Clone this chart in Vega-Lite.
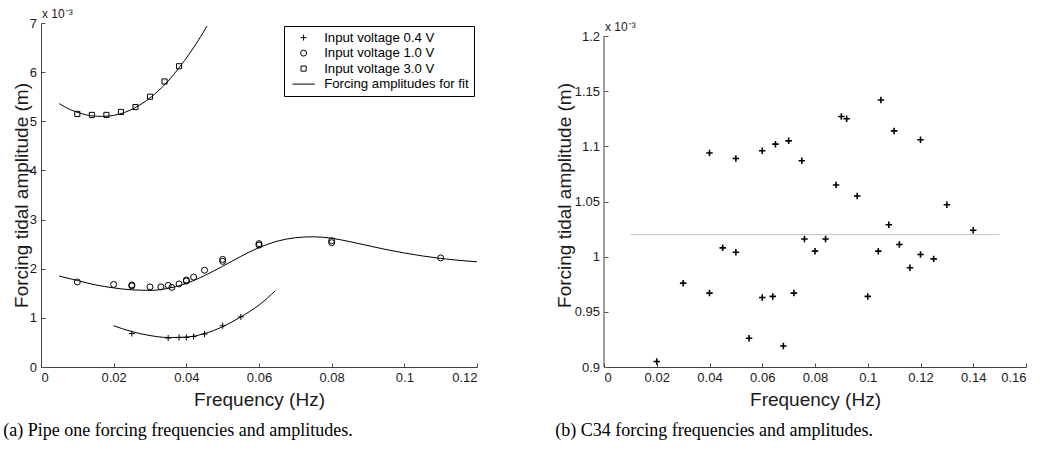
{
  "$schema": "https://vega.github.io/schema/vega-lite/v6.json",
  "padding": {"left": 3, "top": 8, "right": 4, "bottom": 4},
  "background": "white",
  "spacing": 76,
  "resolve": {"legend": {"shape": "independent"}, "scale": {"shape": "independent"}},
  "datasets": {
    "pipePoints": [
      {"series": "Input voltage 0.4 V", "f": 0.025, "a": 0.68},
      {"series": "Input voltage 0.4 V", "f": 0.035, "a": 0.59},
      {"series": "Input voltage 0.4 V", "f": 0.038, "a": 0.60},
      {"series": "Input voltage 0.4 V", "f": 0.040, "a": 0.60},
      {"series": "Input voltage 0.4 V", "f": 0.042, "a": 0.62},
      {"series": "Input voltage 0.4 V", "f": 0.045, "a": 0.67},
      {"series": "Input voltage 0.4 V", "f": 0.050, "a": 0.84},
      {"series": "Input voltage 0.4 V", "f": 0.055, "a": 1.02},
      {"series": "Input voltage 1.0 V", "f": 0.010, "a": 1.73},
      {"series": "Input voltage 1.0 V", "f": 0.020, "a": 1.68},
      {"series": "Input voltage 1.0 V", "f": 0.025, "a": 1.65},
      {"series": "Input voltage 1.0 V", "f": 0.025, "a": 1.67},
      {"series": "Input voltage 1.0 V", "f": 0.030, "a": 1.63},
      {"series": "Input voltage 1.0 V", "f": 0.033, "a": 1.63},
      {"series": "Input voltage 1.0 V", "f": 0.035, "a": 1.66},
      {"series": "Input voltage 1.0 V", "f": 0.036, "a": 1.62},
      {"series": "Input voltage 1.0 V", "f": 0.038, "a": 1.69},
      {"series": "Input voltage 1.0 V", "f": 0.040, "a": 1.75},
      {"series": "Input voltage 1.0 V", "f": 0.040, "a": 1.77},
      {"series": "Input voltage 1.0 V", "f": 0.042, "a": 1.83},
      {"series": "Input voltage 1.0 V", "f": 0.045, "a": 1.97},
      {"series": "Input voltage 1.0 V", "f": 0.050, "a": 2.15},
      {"series": "Input voltage 1.0 V", "f": 0.050, "a": 2.19},
      {"series": "Input voltage 1.0 V", "f": 0.060, "a": 2.48},
      {"series": "Input voltage 1.0 V", "f": 0.060, "a": 2.51},
      {"series": "Input voltage 1.0 V", "f": 0.080, "a": 2.53},
      {"series": "Input voltage 1.0 V", "f": 0.080, "a": 2.57},
      {"series": "Input voltage 1.0 V", "f": 0.110, "a": 2.22},
      {"series": "Input voltage 3.0 V", "f": 0.010, "a": 5.15},
      {"series": "Input voltage 3.0 V", "f": 0.014, "a": 5.13},
      {"series": "Input voltage 3.0 V", "f": 0.018, "a": 5.13},
      {"series": "Input voltage 3.0 V", "f": 0.022, "a": 5.19},
      {"series": "Input voltage 3.0 V", "f": 0.026, "a": 5.29},
      {"series": "Input voltage 3.0 V", "f": 0.030, "a": 5.50},
      {"series": "Input voltage 3.0 V", "f": 0.034, "a": 5.81},
      {"series": "Input voltage 3.0 V", "f": 0.038, "a": 6.12}
    ],
    "pipeFits": [
      {"curve": "0.4 V", "f": 0.020, "a": 0.84},
      {"curve": "0.4 V", "f": 0.025, "a": 0.72},
      {"curve": "0.4 V", "f": 0.030, "a": 0.64},
      {"curve": "0.4 V", "f": 0.035, "a": 0.60},
      {"curve": "0.4 V", "f": 0.040, "a": 0.61},
      {"curve": "0.4 V", "f": 0.045, "a": 0.68},
      {"curve": "0.4 V", "f": 0.050, "a": 0.82},
      {"curve": "0.4 V", "f": 0.055, "a": 1.02},
      {"curve": "0.4 V", "f": 0.060, "a": 1.26},
      {"curve": "0.4 V", "f": 0.0645, "a": 1.55},
      {"curve": "1.0 V", "f": 0.005, "a": 1.85},
      {"curve": "1.0 V", "f": 0.010, "a": 1.76},
      {"curve": "1.0 V", "f": 0.015, "a": 1.67},
      {"curve": "1.0 V", "f": 0.020, "a": 1.61},
      {"curve": "1.0 V", "f": 0.025, "a": 1.57},
      {"curve": "1.0 V", "f": 0.030, "a": 1.56},
      {"curve": "1.0 V", "f": 0.035, "a": 1.60},
      {"curve": "1.0 V", "f": 0.040, "a": 1.70},
      {"curve": "1.0 V", "f": 0.045, "a": 1.86},
      {"curve": "1.0 V", "f": 0.050, "a": 2.05},
      {"curve": "1.0 V", "f": 0.055, "a": 2.25},
      {"curve": "1.0 V", "f": 0.060, "a": 2.43},
      {"curve": "1.0 V", "f": 0.065, "a": 2.56},
      {"curve": "1.0 V", "f": 0.070, "a": 2.63},
      {"curve": "1.0 V", "f": 0.075, "a": 2.65},
      {"curve": "1.0 V", "f": 0.080, "a": 2.62},
      {"curve": "1.0 V", "f": 0.085, "a": 2.55},
      {"curve": "1.0 V", "f": 0.090, "a": 2.47},
      {"curve": "1.0 V", "f": 0.095, "a": 2.39},
      {"curve": "1.0 V", "f": 0.100, "a": 2.32},
      {"curve": "1.0 V", "f": 0.105, "a": 2.26},
      {"curve": "1.0 V", "f": 0.110, "a": 2.21},
      {"curve": "1.0 V", "f": 0.115, "a": 2.17},
      {"curve": "1.0 V", "f": 0.120, "a": 2.14},
      {"curve": "3.0 V", "f": 0.005, "a": 5.36},
      {"curve": "3.0 V", "f": 0.008, "a": 5.24},
      {"curve": "3.0 V", "f": 0.011, "a": 5.16},
      {"curve": "3.0 V", "f": 0.014, "a": 5.11},
      {"curve": "3.0 V", "f": 0.017, "a": 5.10},
      {"curve": "3.0 V", "f": 0.020, "a": 5.12},
      {"curve": "3.0 V", "f": 0.023, "a": 5.18},
      {"curve": "3.0 V", "f": 0.026, "a": 5.28},
      {"curve": "3.0 V", "f": 0.029, "a": 5.42},
      {"curve": "3.0 V", "f": 0.032, "a": 5.60},
      {"curve": "3.0 V", "f": 0.035, "a": 5.82},
      {"curve": "3.0 V", "f": 0.038, "a": 6.09},
      {"curve": "3.0 V", "f": 0.041, "a": 6.39},
      {"curve": "3.0 V", "f": 0.044, "a": 6.73},
      {"curve": "3.0 V", "f": 0.0457, "a": 6.94}
    ],
    "c34Points": [
      {"f": 0.020, "a": 0.905},
      {"f": 0.030, "a": 0.976},
      {"f": 0.040, "a": 1.094},
      {"f": 0.040, "a": 0.967},
      {"f": 0.045, "a": 1.008},
      {"f": 0.050, "a": 1.089},
      {"f": 0.050, "a": 1.004},
      {"f": 0.055, "a": 0.926},
      {"f": 0.060, "a": 1.096},
      {"f": 0.060, "a": 0.963},
      {"f": 0.064, "a": 0.964},
      {"f": 0.065, "a": 1.102},
      {"f": 0.068, "a": 0.919},
      {"f": 0.070, "a": 1.105},
      {"f": 0.072, "a": 0.967},
      {"f": 0.075, "a": 1.087},
      {"f": 0.076, "a": 1.016},
      {"f": 0.080, "a": 1.005},
      {"f": 0.084, "a": 1.016},
      {"f": 0.088, "a": 1.065},
      {"f": 0.090, "a": 1.127},
      {"f": 0.092, "a": 1.125},
      {"f": 0.096, "a": 1.055},
      {"f": 0.100, "a": 0.964},
      {"f": 0.104, "a": 1.005},
      {"f": 0.105, "a": 1.142},
      {"f": 0.108, "a": 1.029},
      {"f": 0.110, "a": 1.114},
      {"f": 0.112, "a": 1.011},
      {"f": 0.116, "a": 0.990},
      {"f": 0.120, "a": 1.106},
      {"f": 0.120, "a": 1.002},
      {"f": 0.125, "a": 0.998},
      {"f": 0.130, "a": 1.047},
      {"f": 0.140, "a": 1.024}
    ],
    "c34Mean": [
      {"f": 0.010, "a": 1.02},
      {"f": 0.150, "a": 1.02}
    ],
    "c34AxisLine": [
      {"f": 0, "a": 0.9, "a2": 1.2}
    ],
    "unitLeft": [{"f": 0, "a": 7, "label": "x 10⁻³"}],
    "unitRight": [{"f": 0, "a": 1.2, "label": "x 10⁻³"}]
  },
  "hconcat": [
    {
      "width": 436,
      "height": 344,
      "title": {
        "text": "(a) Pipe one forcing frequencies and amplitudes.",
        "orient": "bottom",
        "anchor": "start",
        "frame": "bounds",
        "dx": -9,
        "font": "Liberation Serif",
        "fontSize": 18,
        "fontWeight": "normal",
        "color": "black",
        "offset": 12
      },
      "layer": [
        {
          "data": {"name": "pipeFits"},
          "mark": {"type": "line", "color": "black", "strokeWidth": 1, "interpolate": "monotone"},
          "encoding": {
            "x": {"field": "f", "type": "quantitative", "scale": {"domain": [0, 0.12], "nice": false, "zero": false},
                  "axis": {"title": "Frequency (Hz)", "values": [0, 0.02, 0.04, 0.06, 0.08, 0.1, 0.12], "format": "~g"}},
            "y": {"field": "a", "type": "quantitative", "scale": {"domain": [0, 7], "nice": false},
                  "axis": {"title": "Forcing tidal amplitude (m)", "values": [0, 1, 2, 3, 4, 5, 6, 7], "format": "~g"}},
            "detail": {"field": "curve"}
          }
        },
        {
          "data": {"name": "pipePoints"},
          "mark": {"type": "point", "filled": false, "stroke": "black", "strokeWidth": 1, "opacity": 1, "size": 36},
          "encoding": {
            "x": {"field": "f", "type": "quantitative"},
            "y": {"field": "a", "type": "quantitative"},
            "shape": {
              "field": "series", "type": "nominal",
              "scale": {
                "domain": ["Input voltage 0.4 V", "Input voltage 1.0 V", "Input voltage 3.0 V", "Forcing amplitudes for fit"],
                "range": ["M-1,0H1M0,-1V1", "circle", "M-0.85,-0.85H0.85V0.85H-0.85Z", "M-3.7,0H3.7"]
              },
              "legend": {
                "title": null,
                "orient": "top-right",
                "offset": 3,
                "strokeColor": "black",
                "fillColor": "white",
                "padding": 5,
                "symbolOffset": 8,
                "labelOffset": 14,
                "symbolSize": 36,
                "symbolStrokeColor": "black",
                "symbolStrokeWidth": 1,
                "labelFont": "Liberation Sans",
                "labelFontSize": 13.2,
                "labelColor": "black",
                "rowPadding": 1.5
              }
            }
          }
        },
        {
          "data": {"name": "unitLeft"},
          "mark": {"type": "text", "align": "left", "baseline": "alphabetic", "dx": 1, "dy": -5, "font": "Liberation Sans", "fontSize": 12, "color": "#1a1a1a"},
          "encoding": {
            "x": {"field": "f", "type": "quantitative"},
            "y": {"field": "a", "type": "quantitative"},
            "text": {"field": "label"}
          }
        }
      ]
    },
    {
      "width": 422,
      "height": 344,
      "title": {
        "text": "(b) C34 forcing frequencies and amplitudes.",
        "orient": "bottom",
        "anchor": "start",
        "frame": "bounds",
        "font": "Liberation Serif",
        "fontSize": 18,
        "fontWeight": "normal",
        "color": "black",
        "offset": 12
      },
      "layer": [
        {
          "data": {"name": "c34Mean"},
          "mark": {"type": "line", "color": "#c4c4c4", "strokeWidth": 1},
          "encoding": {
            "x": {"field": "f", "type": "quantitative", "scale": {"domain": [0, 0.16], "nice": false},
                  "axis": {"title": "Frequency (Hz)", "values": [0, 0.02, 0.04, 0.06, 0.08, 0.1, 0.12, 0.14, 0.16], "format": "~g"}},
            "y": {"field": "a", "type": "quantitative", "scale": {"domain": [0.9, 1.2118], "nice": false, "zero": false},
                  "axis": {"title": "Forcing tidal amplitude (m)", "values": [0.9, 0.95, 1, 1.05, 1.1, 1.15, 1.2], "format": "~g", "domain": false, "titlePadding": 0}}
          }
        },
        {
          "data": {"name": "c34AxisLine"},
          "mark": {"type": "rule", "color": "#404040", "strokeWidth": 1},
          "encoding": {
            "x": {"field": "f", "type": "quantitative"},
            "y": {"field": "a", "type": "quantitative"},
            "y2": {"field": "a2"}
          }
        },
        {
          "data": {"name": "c34Points"},
          "mark": {"type": "point", "shape": "M-1,0H1M0,-1V1", "filled": false, "stroke": "black", "strokeWidth": 1.6, "opacity": 1, "size": 42},
          "encoding": {
            "x": {"field": "f", "type": "quantitative"},
            "y": {"field": "a", "type": "quantitative"}
          }
        },
        {
          "data": {"name": "unitRight"},
          "mark": {"type": "text", "align": "left", "baseline": "alphabetic", "dx": 1, "dy": -5, "font": "Liberation Sans", "fontSize": 12, "color": "#1a1a1a"},
          "encoding": {
            "x": {"field": "f", "type": "quantitative"},
            "y": {"field": "a", "type": "quantitative"},
            "text": {"field": "label"}
          }
        }
      ]
    }
  ],
  "config": {
    "view": {"stroke": null},
    "axis": {
      "grid": false,
      "domainColor": "#404040",
      "domainWidth": 1,
      "tickColor": "#505050",
      "tickSize": -4,
      "labelPadding": 8.5,
      "labelFont": "Liberation Sans",
      "labelFontSize": 13,
      "labelColor": "#1a1a1a",
      "titleFont": "Liberation Sans",
      "titleFontSize": 19,
      "titleFontWeight": "normal",
      "titleColor": "#1a1a1a"
    },
    "axisX": {"titlePadding": 6},
    "axisY": {"titlePadding": -2}
  }
}
